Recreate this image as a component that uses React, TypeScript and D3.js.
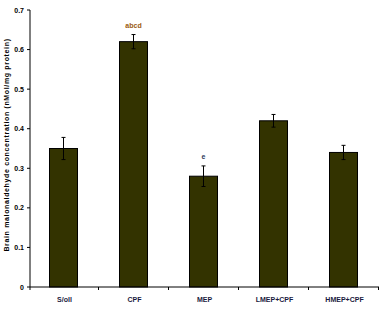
import React from "react";
import * as d3 from "d3";

const categories = ["S/oll", "CPF", "MEP", "LMEP+CPF", "HMEP+CPF"];
const values = [0.35, 0.62, 0.28, 0.42, 0.34];
const errors = [0.028, 0.018, 0.026, 0.016, 0.018];
const letters = ["", "abcd", "e", "", ""];
const yTicks = [0, 0.1, 0.2, 0.3, 0.4, 0.5, 0.6, 0.7];
const yTitle = "Brain malonaldehyde concentration (nMol/mg protein)";

export default function App() {
  const W = 382, H = 310;
  const x = d3.scaleBand<string>().domain(categories).range([28.5, 378.5]).paddingInner(0.6).paddingOuter(0.3);
  const y = d3.scaleLinear().domain([0, 0.7]).range([287, 10]);
  const font = "'Liberation Sans', Arial, sans-serif";
  const bw = x.bandwidth();
  const step = x.step();
  return (
    <svg width={W} height={H} style={{ position: "absolute", left: 0, top: 0 }} fontFamily={font}>
      <rect width={W} height={H} fill="#fff" />
      {values.map((v, i) => {
        const cx = x(categories[i])! + bw / 2;
        return (
          <g key={i}>
            <rect x={x(categories[i])!} y={y(v)} width={bw} height={y(0) - y(v)} fill="#333300" stroke="#000" strokeWidth={1} />
            <line x1={cx} x2={cx} y1={y(v + errors[i])} y2={y(v - errors[i])} stroke="#000" strokeWidth={1} />
            <line x1={cx - 2} x2={cx + 2} y1={y(v + errors[i])} y2={y(v + errors[i])} stroke="#000" strokeWidth={1} />
            <line x1={cx - 2} x2={cx + 2} y1={y(v - errors[i])} y2={y(v - errors[i])} stroke="#000" strokeWidth={1} />
            {letters[i] && (
              <text x={cx} y={y(v + errors[i]) - 7} textAnchor="middle" fontSize={7} fontWeight="bold" fill={i === 1 ? "#9a5a10" : "#2a3a5a"}>
                {letters[i]}
              </text>
            )}
            <text x={cx + 1} y={302} textAnchor="middle" fontSize={7} fontWeight="bold" fill="#1a1a40">
              {categories[i]}
            </text>
          </g>
        );
      })}
      <line x1={30} x2={30} y1={10} y2={287} stroke="#000" strokeWidth={1} />
      <line x1={30} x2={379} y1={287} y2={287} stroke="#000" strokeWidth={1} />
      {yTicks.map((t) => (
        <g key={t}>
          <line x1={27} x2={30} y1={y(t)} y2={y(t)} stroke="#000" />
          <text x={24} y={y(t) + 2.5} textAnchor="end" fontSize={7} fontWeight="bold" fill="#000">
            {t === 0 ? "0" : t.toFixed(1)}
          </text>
        </g>
      ))}
      {categories.map((c, i) => (
        <line key={c} x1={28.5 + step * (i + 1)} x2={28.5 + step * (i + 1)} y1={287} y2={290} stroke="#000" />
      ))}
      <line x1={30} x2={30} y1={287} y2={290} stroke="#000" />
      <text
        transform={`translate(9,${145}) rotate(-90)`}
        textAnchor="middle"
        fontSize={7}
        fontWeight="bold"
        fill="#000"
        letterSpacing={0.65}
      >
        {yTitle}
      </text>
    </svg>
  );
}
